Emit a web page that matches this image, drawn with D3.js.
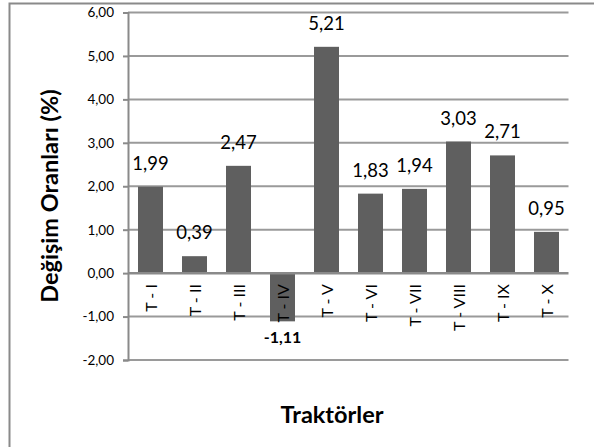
<!DOCTYPE html>
<html><head><meta charset="utf-8">
<script src="https://cdn.jsdelivr.net/npm/d3@7"></script>
<style>body{margin:0;background:#fff}svg{display:block}text{font-family:Lato,"Open Sans",sans-serif}</style>
</head><body>
<script>
const categories = ["T - I","T - II","T - III","T - IV","T - V","T - VI","T - VII","T - VIII","T - IX","T - X"];
const values = [1.99,0.39,2.47,-1.11,5.21,1.83,1.94,3.03,2.71,0.95];
const yTicks = [-2,-1,0,1,2,3,4,5,6];
const yTitle = "Değişim Oranları (%)";
const xTitle = "Traktörler";

const W=594,H=447;
const svg=d3.select("body").append("svg").attr("width",W).attr("height",H);
svg.append("rect").attr("x",9.5).attr("y",3.5).attr("width",800).attr("height",800)
  .attr("fill","none").attr("stroke","#8a8a8a").attr("stroke-width",2);

const x=d3.scaleBand().domain(categories).range([128.5,568.5]).paddingInner(19/44).paddingOuter(19/88);
const y=d3.scaleLinear().domain([-2,6]).range([360,12.5]);
const fmt=v=>d3.format(".2f")(v).replace(".",",").replace("\u2212","-");

// gridlines
svg.append("g").selectAll("line").data(yTicks.filter(t=>t!==0)).join("line")
  .attr("x1",128).attr("x2",568.5).attr("y1",d=>y(d)).attr("y2",d=>y(d))
  .attr("stroke","#9a9a9a").attr("stroke-width",2);

// y axis
const ya=svg.append("g").attr("transform","translate(128,0)")
  .call(d3.axisLeft(y).tickValues(yTicks).tickSize(5).tickPadding(9).tickFormat(fmt));
ya.select(".domain").attr("stroke","#8a8a8a").attr("stroke-width",2);
ya.selectAll(".tick line").attr("stroke","#8a8a8a").attr("stroke-width",2);
ya.selectAll("text").attr("font-size",13.5).attr("fill","#000");

// bars
svg.append("g").selectAll("rect").data(values).join("rect")
  .attr("x",(d,i)=>x(categories[i])).attr("width",x.bandwidth())
  .attr("y",d=>y(Math.max(0,d))).attr("height",d=>Math.abs(y(d)-y(0)))
  .attr("fill","#5f5f5f");

// zero axis
svg.append("line").attr("x1",128).attr("x2",568.5).attr("y1",y(0)).attr("y2",y(0))
  .attr("stroke","#8a8a8a").attr("stroke-width",2.5);

// x tick labels (rotated)
svg.append("g").selectAll("text").data(categories).join("text")
  .attr("transform",d=>`translate(${x(d)+x.bandwidth()/2+6},${y(0)+11}) rotate(-90)`)
  .attr("text-anchor","end").attr("font-size",16).attr("fill","#000").text(d=>d);

// data labels
svg.append("g").selectAll("text").data(values).join("text")
  .attr("x",(d,i)=>x(categories[i])+x.bandwidth()/2)
  .attr("y",d=>d>=0?y(d)-17:y(d)+22)
  .attr("text-anchor","middle")
  .attr("font-size",d=>d>=0?18.5:16)
  .attr("font-weight",d=>d>=0?"normal":"bold")
  .attr("fill","#000").text(d=>fmt(d));

// titles
svg.append("text").attr("transform",`translate(58,196) rotate(-90)`).attr("text-anchor","middle")
  .attr("font-size",23.5).attr("font-weight","bold").text(yTitle);
svg.append("text").attr("x",332).attr("y",423).attr("text-anchor","middle")
  .attr("font-size",23.5).attr("font-weight","bold").text(xTitle);
</script>
</body></html>
